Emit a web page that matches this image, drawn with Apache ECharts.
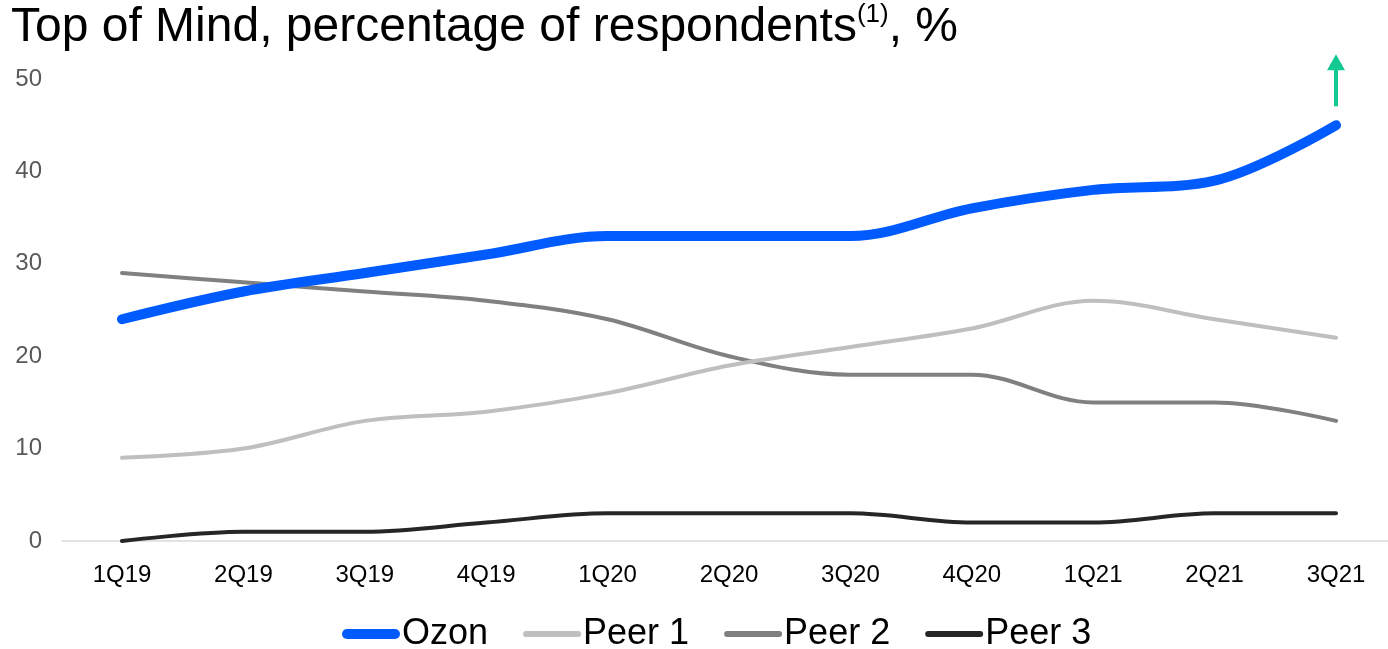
<!DOCTYPE html>
<html>
<head>
<meta charset="utf-8">
<script src="https://cdn.jsdelivr.net/npm/echarts@6/dist/echarts.min.js"></script>
<style>
html,body{margin:0;padding:0;background:#fff;}
#c{width:1388px;height:649px;}
</style>
</head>
<body>
<div id="c"></div>
<script>
const categories = ['1Q19','2Q19','3Q19','4Q19','1Q20','2Q20','3Q20','4Q20','1Q21','2Q21','3Q21'];
const ozon  = [24, 27, 29, 31, 33, 33, 33, 36, 38, 39, 45];
const peer1 = [9, 10, 13, 14, 16, 19, 21, 23, 26, 24, 22];
const peer2 = [29, 28, 27, 26, 24, 20, 18, 18, 15, 15, 13];
const peer3 = [0, 1, 1, 2, 3, 3, 3, 2, 2, 3, 3];
const yTicks = [0, 10, 20, 30, 40, 50];

const FONT = '"Liberation Sans", Arial, sans-serif';
const capThick = 'path://M5,0 L53,0 A5,5 0 0 1 53,10 L5,10 A5,5 0 0 1 5,0 Z';
const capThin = 'path://M3,0 L55,0 A3,3 0 0 1 55,6 L3,6 A3,3 0 0 1 3,0 Z';

const chart = echarts.init(document.getElementById('c'), null, {renderer:'canvas'});
chart.setOption({
  animation: false,
  backgroundColor: '#fff',
  textStyle: {fontFamily: FONT},
  title: {
    text: '{m|Top of Mind, percentage of respondents}{s|(1)}{m|, %}',
    left: 6, top: -3,
    textStyle: {
      fontWeight: 'normal',
      rich: {
        m: {fontSize: 48, color: '#000', fontFamily: FONT, fontWeight: 'normal', lineHeight: 50, verticalAlign: 'bottom'},
        s: {fontSize: 26, color: '#000', fontFamily: FONT, fontWeight: 'normal', lineHeight: 50, verticalAlign: 'top', padding: [0,0,0,0]}
      }
    }
  },
  legend: {
    bottom: -8,
    left: 337,
    itemWidth: 58, itemHeight: 10, itemGap: 35,
    textStyle: {fontSize: 36, color: '#000', fontFamily: FONT, padding: [0,0,0,-3]},
    data: [
      {name: 'Ozon', icon: capThick},
      {name: 'Peer 1', icon: capThin},
      {name: 'Peer 2', icon: capThin},
      {name: 'Peer 3', icon: capThin}
    ]
  },
  grid: [
    {left: 122, right: 52, top: 79, height: 462, containLabel: false},
    {left: 62, right: 0, top: 79, height: 462, containLabel: false}
  ],
  xAxis: [
    {
      type: 'category',
      gridIndex: 0,
      data: categories,
      boundaryGap: false,
      axisLine: {show: false},
      axisTick: {show: false},
      axisLabel: {fontSize: 24, color: '#000', margin: 22, fontFamily: FONT}
    },
    {
      type: 'category',
      gridIndex: 1,
      data: categories,
      axisLine: {show: true, lineStyle: {color: '#D9D9D9', width: 1.5}},
      axisTick: {show: false},
      axisLabel: {show: false}
    }
  ],
  yAxis: [
    {
      type: 'value',
      gridIndex: 0,
      min: yTicks[0], max: yTicks[yTicks.length-1], interval: 10,
      axisLine: {show: false},
      axisTick: {show: false},
      splitLine: {show: false},
      axisLabel: {show: false}
    },
    {
      type: 'value',
      gridIndex: 1,
      min: yTicks[0], max: yTicks[yTicks.length-1], interval: 10,
      axisLine: {show: false},
      axisTick: {show: false},
      splitLine: {show: false},
      axisLabel: {fontSize: 24, color: '#595959', margin: 20, fontFamily: FONT}
    }
  ],
  series: [
    {name: 'Peer 3', type: 'line', data: peer3, smooth: 0.35, symbol: 'none', z: 2,
      itemStyle: {color: '#262626'}, lineStyle: {color: '#262626', width: 4, cap: 'round'}},
    {name: 'Peer 2', type: 'line', data: peer2, smooth: 0.35, symbol: 'none', z: 3,
      itemStyle: {color: '#808080'}, lineStyle: {color: '#808080', width: 4, cap: 'round'}},
    {name: 'Peer 1', type: 'line', data: peer1, smooth: 0.35, symbol: 'none', z: 4,
      itemStyle: {color: '#BFBFBF'}, lineStyle: {color: '#BFBFBF', width: 4, cap: 'round'}},
    {name: 'Ozon', type: 'line', data: ozon, smooth: 0.35, symbol: 'none', z: 5,
      itemStyle: {color: '#005BFF'}, lineStyle: {color: '#005BFF', width: 10, cap: 'round'},
      markPoint: {
        silent: true,
        symbol: 'path://M9,0 L18,16 L11,16 L11,52 L7,52 L7,16 L0,16 Z',
        symbolSize: [18, 52],
        symbolOffset: [0, -45],
        symbolKeepAspect: false,
        itemStyle: {color: '#12C993'},
        label: {show: false},
        data: [{coord: [categories.length - 1, ozon[ozon.length - 1]]}]
      }}
  ]
});
</script>
</body>
</html>
